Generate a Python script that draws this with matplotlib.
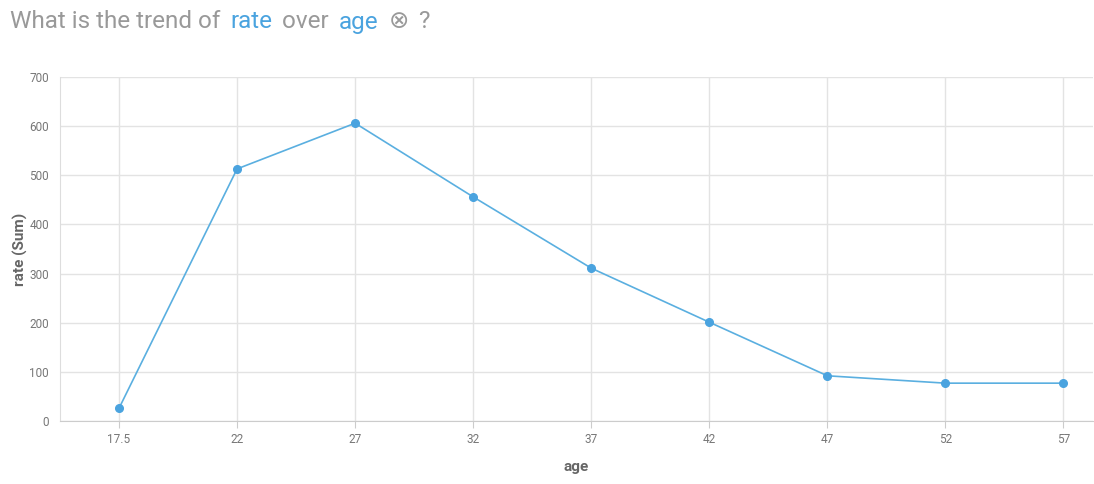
import matplotlib
matplotlib.use("Agg")
import matplotlib.pyplot as plt

plt.rcParams['font.family'] = ['Roboto', 'DejaVu Sans']

ages = ["17.5", "22", "27", "32", "37", "42", "47", "52", "57"]
rate = [26, 513, 606, 456, 311, 201, 92, 77, 77]

blue = '#4aa3df'
grey = '#999999'

fig = plt.figure(figsize=(10.94, 4.84), dpi=100)
ax = fig.add_axes([60/1094, 63/484, 1033/1094, 344/484])

x = list(range(len(ages)))
ax.plot(x, rate, color='#5aafe0', lw=1.2, marker='o', ms=5.5, mfc=blue, mec=blue, zorder=3)
ax.set_xlim(-0.5, 8.25)
ax.set_ylim(0, 700)
ax.set_yticks(range(0, 701, 100))
ax.set_xticks(x)
ax.set_xticklabels(ages)
ax.grid(True, color='#e3e3e3', lw=1)
ax.set_axisbelow(True)
for s in ['top', 'right']:
    ax.spines[s].set_visible(False)
ax.spines['left'].set_color('#dddddd')
ax.spines['bottom'].set_color('#cccccc')
ax.tick_params(colors='#777777', labelsize=8.5, length=5)
ax.tick_params(axis='x', colors='#cccccc', labelcolor='#777777')
ax.tick_params(axis='y', length=0, pad=8)
ax.set_xlabel('age', fontsize=11, color='#666666', fontweight='bold', labelpad=10)
ax.set_ylabel('rate (Sum)', fontsize=11, color='#666666', fontweight='bold', labelpad=1)

# title built piece by piece
parts = [("What is the trend of ", grey), ("rate", blue), (" over ", grey),
         ("age", blue), (" \u2297", grey), (" ?", grey)]
renderer = fig.canvas.get_renderer()
xp = 10
for txt, col in parts:
    t = fig.text(xp/1094, 1 - 22/484, txt, color=col, fontsize=17.5, va='center', ha='left')
    bb = t.get_window_extent(renderer)
    xp += bb.width + 4

fig.savefig('out.png', dpi=100)
